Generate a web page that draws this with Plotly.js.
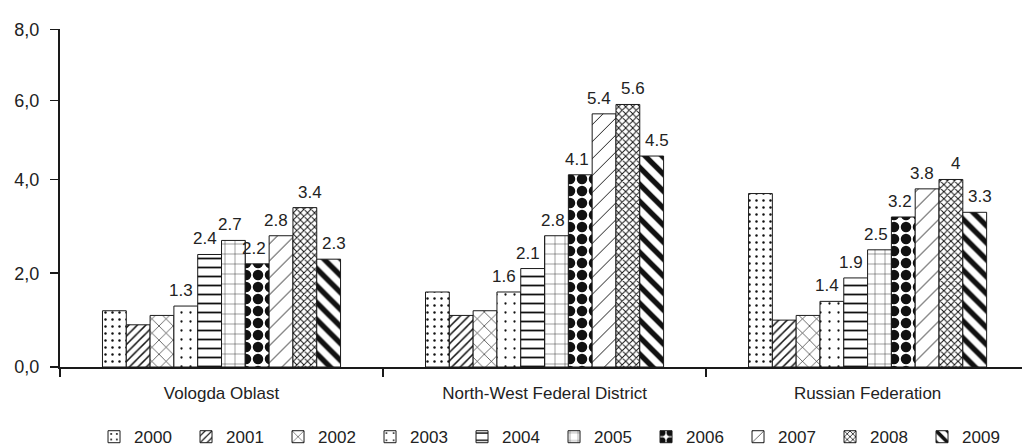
<!DOCTYPE html>
<html>
<head>
<meta charset="utf-8">
<script src="https://cdn.plot.ly/plotly-3.0.1.min.js"></script>
<style>html,body{margin:0;padding:0;background:#fff}#chart{width:1022px;height:447px}</style>
</head>
<body>
<div id="chart"></div>
<script>
// ---- data ----
const regions = ['Vologda Oblast', 'North-West Federal District', 'Russian Federation'];
const years = ['2000', '2001', '2002', '2003', '2004', '2005', '2006', '2007', '2008', '2009'];
const v2000 = [1.2, 1.6, 3.7];
const v2001 = [0.9, 1.1, 1.0];
const v2002 = [1.1, 1.2, 1.1];
const v2003 = [1.3, 1.6, 1.4];
const v2004 = [2.4, 2.1, 1.9];
const v2005 = [2.7, 2.8, 2.5];
const v2006 = [2.2, 4.1, 3.2];
const v2007 = [2.8, 5.4, 3.8];
const v2008 = [3.4, 5.6, 4.0];
const v2009 = [2.3, 4.5, 3.3];
const labelledYears = ['2003', '2004', '2005', '2006', '2007', '2008', '2009'];
const yTickValues = [0, 2, 4, 5.68, 7.2];
const yTickLabels = ['0,0', '2,0', '4,0', '6,0', '8,0'];

const series = [v2000, v2001, v2002, v2003, v2004, v2005, v2006, v2007, v2008, v2009];

// ---- styles ----
const patterns = [
  {shape: '.', size: 7, solidity: 0.1},
  {shape: '/', size: 6, solidity: 0.25},
  {shape: 'x', size: 10, solidity: 0.12},
  {shape: '.', size: 9, solidity: 0.05},
  {shape: '-', size: 9, solidity: 0.2},
  {shape: '+', size: 10, solidity: 0.08},
  {shape: '.', size: 12, solidity: 0.6},
  {shape: '/', size: 12, solidity: 0.08},
  {shape: 'x', size: 5, solidity: 0.35},
  {shape: '\\', size: 12, solidity: 0.45}
];
const labelNudge = [0, 0, 0, -5, -5, -3, -3, -5, 5, 5];

const ink = '#1a1a1a';
const textColor = '#222';
const W = 1022, H = 447;
const margin = {l: 60, r: 0, t: 29, b: 80, pad: 0};
const xRange = [-0.5, 2.478];
const bargap = 0.263;

const traces = years.map((yr, i) => ({
  type: 'bar',
  name: yr,
  x: regions,
  y: series[i],
  hoverinfo: 'none',
  marker: {
    color: '#ffffff',
    line: {color: ink, width: 1},
    pattern: Object.assign({fgcolor: '#111', bgcolor: '#ffffff', fillmode: 'replace'}, patterns[i])
  }
}));

const catPx = (W - margin.l - margin.r) / (xRange[1] - xRange[0]);
const barPx = catPx * (1 - bargap) / years.length;

const annotations = [];
years.forEach((yr, i) => {
  if (labelledYears.indexOf(yr) < 0) return;
  series[i].forEach((val, j) => {
    annotations.push({
      x: j, y: val, xref: 'x', yref: 'y',
      text: String(val),
      showarrow: false,
      xanchor: 'center', yanchor: 'bottom',
      xshift: (i - (years.length - 1) / 2) * barPx + labelNudge[i],
      yshift: 4,
      font: {size: 17, color: textColor}
    });
  });
});

const layout = {
  width: W, height: H,
  margin: margin,
  paper_bgcolor: '#fff', plot_bgcolor: '#fff',
  font: {family: 'Liberation Sans, Arial, sans-serif', size: 17, color: textColor},
  barmode: 'group', bargap: bargap, bargroupgap: 0,
  showlegend: true,
  xaxis: {
    type: 'category', range: xRange,
    showline: true, linecolor: ink, linewidth: 1.5,
    ticks: 'outside', tickson: 'boundaries', ticklen: 8, tickwidth: 1.5, tickcolor: ink,
    showgrid: false, zeroline: false,
    ticklabelstandoff: 10,
    tickfont: {size: 17, color: textColor}
  },
  yaxis: {
    range: [0, 7.21],
    tickmode: 'array', tickvals: yTickValues, ticktext: yTickLabels,
    showline: true, linecolor: ink, linewidth: 2,
    ticks: 'outside', ticklen: 8, tickwidth: 1.5, tickcolor: ink,
    showgrid: false, zeroline: false,
    ticklabelstandoff: 7,
    tickfont: {size: 18, color: textColor}
  },
  legend: {
    orientation: 'h',
    xref: 'container', yref: 'container',
    x: 0.092, xanchor: 'left',
    y: 0.022, yanchor: 'middle',
    entrywidth: 47, entrywidthmode: 'pixels',
    itemwidth: 30,
    bgcolor: 'rgba(0,0,0,0)',
    font: {size: 17, color: textColor}
  },
  annotations: annotations
};

Plotly.newPlot('chart', traces, layout, {staticPlot: true, displayModeBar: false});
</script>
</body>
</html>
